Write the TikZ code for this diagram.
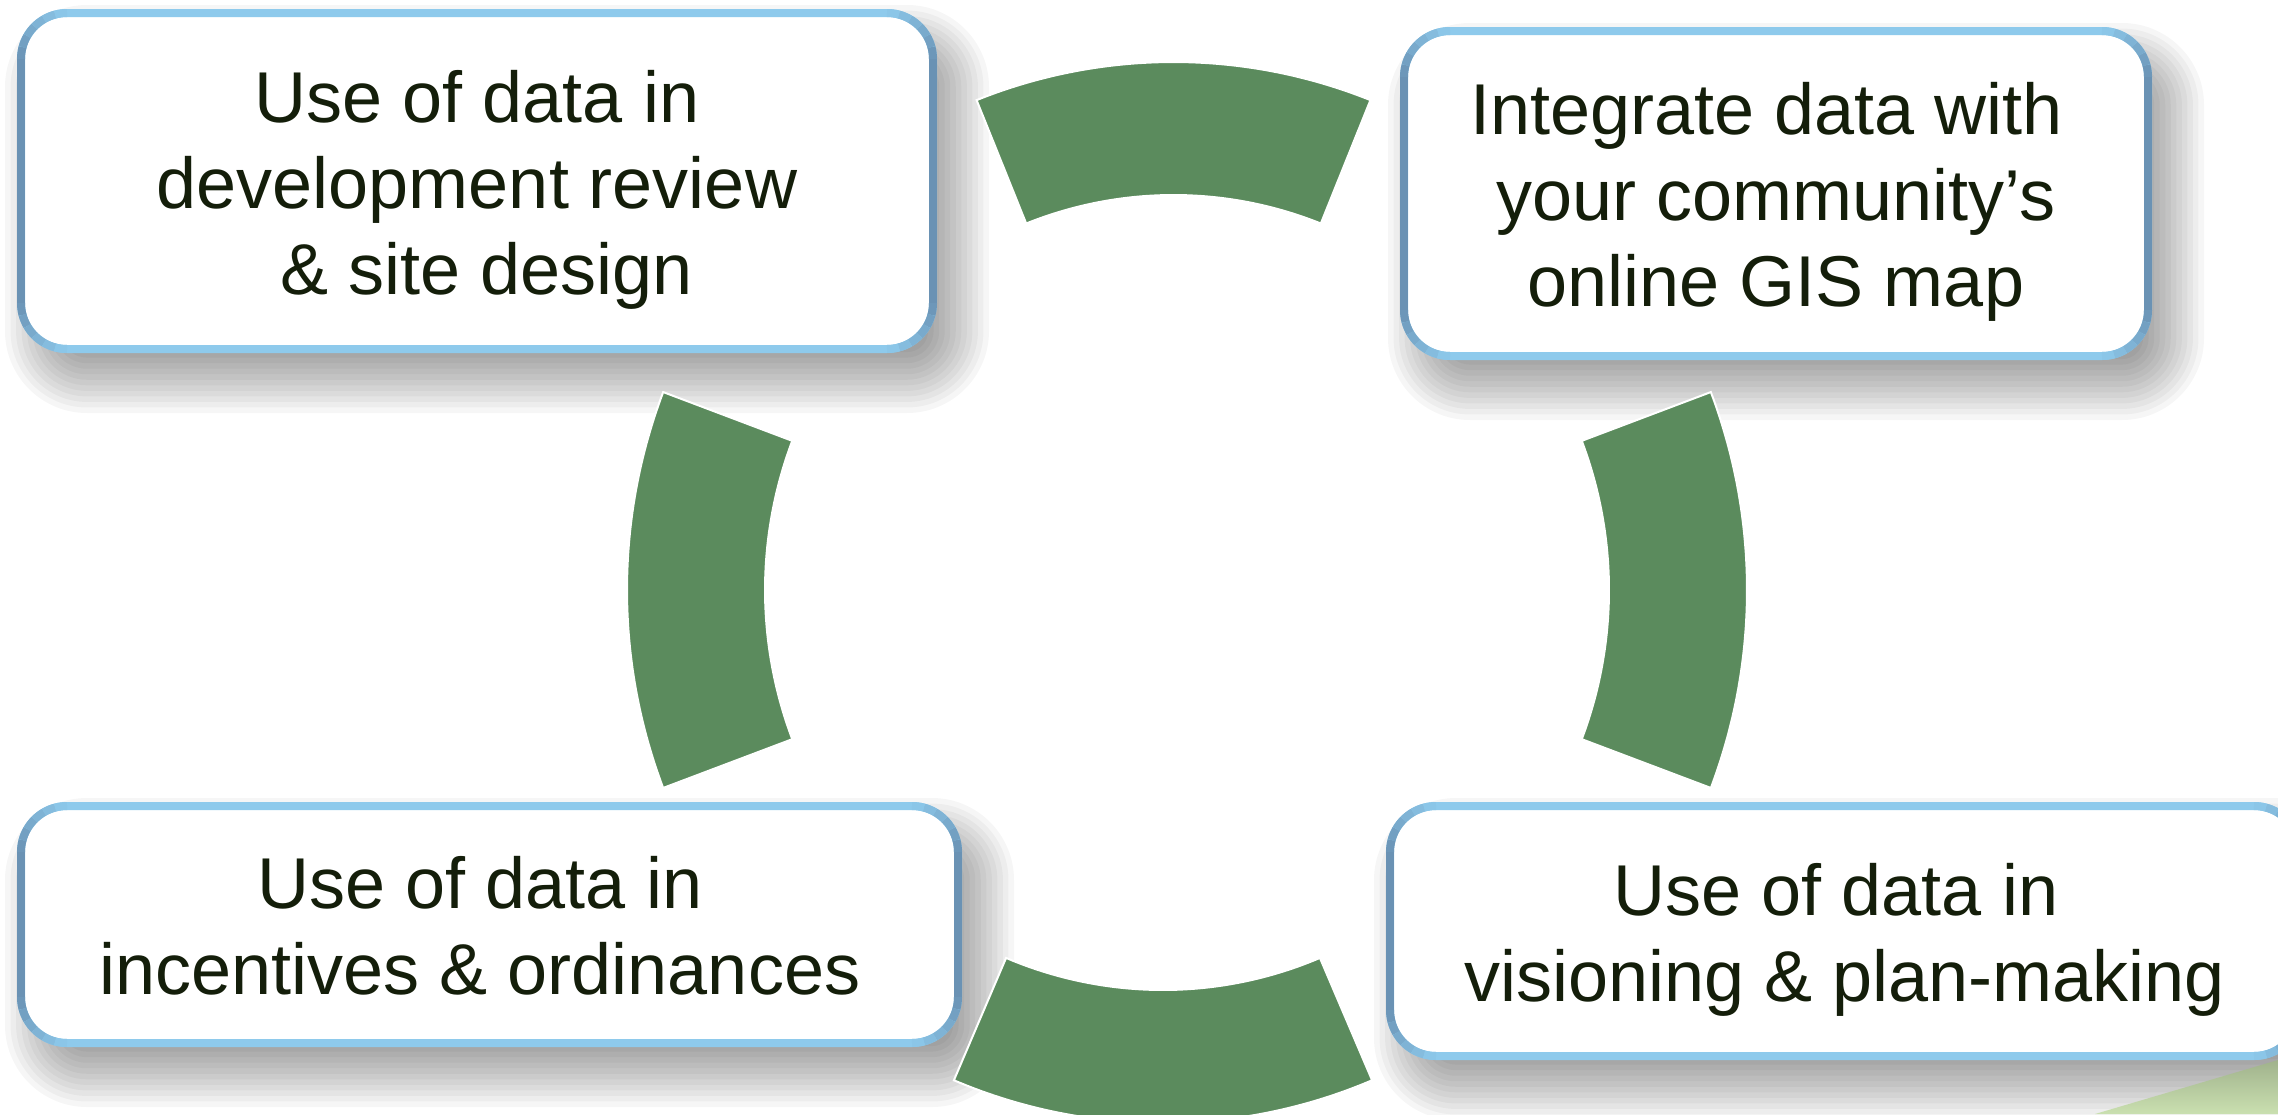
\documentclass[tikz,border=0pt]{standalone}
\usepackage{fontspec}
\setmainfont{Liberation Sans}
\usetikzlibrary{calc}
\definecolor{segGreen}{RGB}{91,139,93}
\definecolor{lightB}{RGB}{142,202,236}
\definecolor{steelB}{RGB}{106,146,180}
\definecolor{txtDark}{RGB}{20,30,10}
\definecolor{curlA}{RGB}{160,178,140}
\definecolor{curlB}{RGB}{202,224,176}
\pgfdeclarelayer{bg}
\pgfsetlayers{bg,main}
\newcommand\lnstrut{\rule[-16pt]{0pt}{86pt}}
\newcommand\boxshadow[1]{%
  \foreach \i in {0,...,13}{%
    \pgfmathsetmacro\ee{36-72*\i/13}%
    \pgfmathsetmacro\rr{max(46+(\ee),4)}%
    \fill[black, opacity=0.034, rounded corners=\rr pt]
      ($(#1.north west)+({20-(\ee)},{28-(\ee)})$) rectangle ($(#1.south east)+({20+(\ee)},{28+(\ee)})$);
  }}
\newcommand\cornerblend[5]{%
  \foreach \k in {0,...,5}{%
    \pgfmathsetmacro\pa{#4+(#5-(#4))*\k/6}%
    \pgfmathsetmacro\pb{#4+(#5-(#4))*(\k+1)/6}%
    \pgfmathtruncatemacro\pc{100-(\k+0.5)*100/6}%
    \draw[line width=8pt, color=steelB!\pc!lightB]
      ($(#1)+({#2+46*cos(\pa)},{#3-46*sin(\pa)})$) arc[start angle=\pa, end angle=\pb, radius=46pt];
  }}
\newcommand\boxborder[1]{%
  \draw[steelB, line width=8pt] ($(#1.north west)+(0,46)$) -- ($(#1.south west)+(0,-46)$);
  \draw[steelB, line width=8pt] ($(#1.north east)+(0,46)$) -- ($(#1.south east)+(0,-46)$);
  \cornerblend{#1.north west}{46}{46}{180}{90}
  \cornerblend{#1.north east}{-46}{46}{0}{90}
  \cornerblend{#1.south west}{46}{-46}{180}{270}
  \cornerblend{#1.south east}{-46}{-46}{360}{270}
}
\tikzset{
  cardbox/.style={rectangle, inner sep=0pt, outer sep=0pt, fill=white, draw=lightB,
    line width=8pt, rounded corners=46pt, align=center,
    font=\fontsize{72}{86}\selectfont, text=txtDark},
  seg/.style={fill=segGreen, draw=white, line width=2pt}
}
\begin{document}
\begin{tikzpicture}[x=1pt, y=-1pt]
\useasboundingbox (0,0) rectangle (2278,1114);
\clip (0,0) rectangle (2278,1114);

\node[cardbox, minimum width=912pt, minimum height=336pt] (tl) at (477,181)
  {\lnstrut Use of data in\\ \lnstrut development review\\ \lnstrut\hspace*{20pt}\& site design};
\node[cardbox, minimum width=744pt, minimum height=325pt] (tr) at (1776,193.5)
  {\lnstrut Integrate data with\hspace*{19pt}\\ \lnstrut your community’s\hspace*{19pt}\\ \lnstrut online GIS map};
\node[cardbox, minimum width=937pt, minimum height=237pt] (bl) at (489.5,924.5)
  {\lnstrut Use of data in\hspace*{19pt}\\ \lnstrut incentives \& ordinances\hspace*{19pt}};
\node[cardbox, minimum width=910pt, minimum height=250pt] (br) at (1845,931)
  {\lnstrut Use of data in\hspace*{18pt}\\ \lnstrut visioning \& plan-making};

\boxborder{tl}
\boxborder{tr}
\boxborder{bl}
\boxborder{br}

\begin{pgfonlayer}{bg}
  \begin{scope}
  \clip (0,0) rectangle (2278,1114);
  \fill[white] (0,0) rectangle (2278,1114);
  \boxshadow{tl}
  \boxshadow{tr}
  \boxshadow{bl}
  \boxshadow{br}
  \shade[top color=curlA, bottom color=curlB] (2095,1114) -- (2278,1060) -- (2278,1114) -- cycle;
  % top segment
  \path[seg] plot[domain=68.1:111.9, samples=60] ({1173.5+528*cos(\x)},{590-528*sin(\x)})
    -- plot[domain=111.9:68.1, samples=60] ({1173.5+395*cos(\x)},{590-395*sin(\x)}) -- cycle;
  % left segment
  \path[seg] plot[domain=159.3:200.7, samples=60] ({1187+560*cos(\x)},{590-560*sin(\x)})
    -- plot[domain=200.7:159.3, samples=60] ({1187+422*cos(\x)},{590-422*sin(\x)}) -- cycle;
  % right segment
  \path[seg] plot[domain=-20.7:20.7, samples=60] ({1187+560*cos(\x)},{590-560*sin(\x)})
    -- plot[domain=20.7:-20.7, samples=60] ({1187+422*cos(\x)},{590-422*sin(\x)}) -- cycle;
  % bottom segment
  \path[seg] plot[domain=246.9:293.1, samples=60] ({1163+533*cos(\x)},{590-533*sin(\x)})
    -- plot[domain=293.1:246.9, samples=60] ({1163+400*cos(\x)},{590-400*sin(\x)}) -- cycle;
  \end{scope}
\end{pgfonlayer}
\end{tikzpicture}
\end{document}
